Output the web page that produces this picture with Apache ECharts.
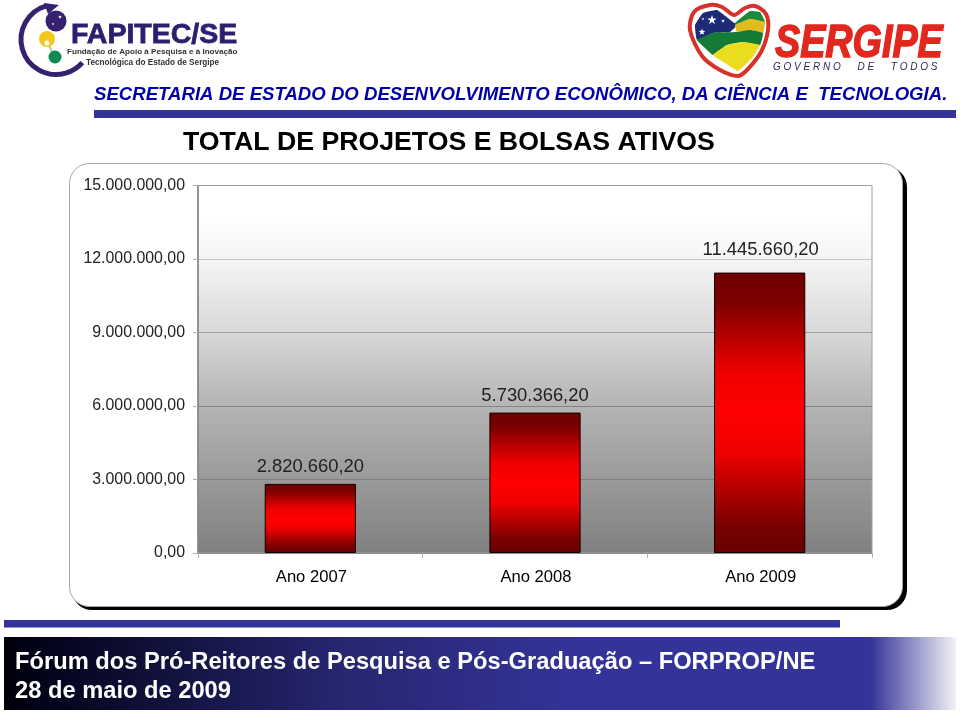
<!DOCTYPE html>
<html><head><meta charset="utf-8">
<style>html,body{margin:0;padding:0;background:#fff}#c{width:960px;height:712px}</style>
<script src="https://cdn.jsdelivr.net/npm/echarts@6/dist/echarts.min.js"></script>
</head><body><div id="c"></div>
<script>
const categories = ['Ano 2007', 'Ano 2008', 'Ano 2009'];
const values = [2820660.20, 5730366.20, 11445660.20];
const chartTitle = 'TOTAL DE PROJETOS E BOLSAS ATIVOS';
const headerText = 'SECRETARIA DE ESTADO DO DESENVOLVIMENTO ECONÔMICO, DA CIÊNCIA E  TECNOLOGIA.';
const footerLine1 = 'Fórum dos Pró-Reitores de Pesquisa e Pós-Graduação – FORPROP/NE';
const footerLine2 = '28 de maio de 2009';

const FONT = '"Liberation Sans", Arial, sans-serif';
const fmt = v => v.toLocaleString('pt-BR', {minimumFractionDigits: 2, maximumFractionDigits: 2});
const grad = (x2, y2, stops) => new echarts.graphic.LinearGradient(0, 0, x2, y2, stops.map(s => ({offset: s[0], color: s[1]})));
const chart = echarts.init(document.getElementById('c'), null, {renderer: 'canvas'});

const txt = (x, y, text, size, fill, extra) => ({type: 'text', x, y, silent: true, style: Object.assign({text, fontSize: size, fontFamily: FONT, fontWeight: 'bold', fill, textVerticalAlign: 'middle'}, extra || {})});
const rect = (x, y, width, height, fill) => ({type: 'rect', silent: true, shape: {x, y, width, height}, style: {fill}});
const poly = (points, fill, smooth, stroke, lw) => ({type: 'polygon', silent: true, shape: {points, smooth: smooth || 0}, style: {fill, stroke: stroke || 'none', lineWidth: lw || 0}});
const star = (cx, cy, r) => {
  const pts = [];
  for (let i = 0; i < 10; i++) {
    const a = -Math.PI / 2 + i * Math.PI / 5, q = i % 2 ? r * 0.4 : r;
    pts.push([cx + q * Math.cos(a), cy + q * Math.sin(a)]);
  }
  return poly(pts, '#fff');
};

const graphics = [
  {type: 'rect', silent: true, z: -10, shape: {x: 72, y: 167, width: 835, height: 443, r: 20}, style: {fill: '#000'}},
  {type: 'rect', silent: true, z: -9, shape: {x: 69.5, y: 163.5, width: 833, height: 443, r: 20}, style: {fill: '#fff', stroke: '#a8a8a8', lineWidth: 1}},
  rect(94, 110, 862, 8, '#333399'),
  txt(94, 95, headerText, 18.6, '#0000a8', {fontStyle: 'italic'}),
  txt(183, 143, chartTitle, 26.7, '#000'),
  rect(4, 620, 836, 7.5, '#333399'),
  rect(4, 637, 952, 73, grad(1, 0, [[0, '#000008'], [0.04, '#03031a'], [0.35, '#262670'], [0.6, '#333399'], [0.91, '#333399'], [1, '#f2f2f6']])),
  txt(15, 662, footerLine1, 23.7, '#fff'),
  txt(15, 691, footerLine2, 23.7, '#fff'),
  // FAPITEC logo
  {type: 'arc', silent: true, shape: {cx: 56, cy: 39.5, r: 35, startAngle: -1.85, endAngle: 0.72, clockwise: false}, style: {fill: 'none', stroke: '#35216f', lineWidth: 5}},
  poly([[44, 3], [59, 5], [48, 14]], '#35216f'),
  {type: 'circle', silent: true, shape: {cx: 56, cy: 21, r: 10.5}, style: {fill: '#35216f'}},
  star(60, 17, 2), star(53, 24, 1.5),
  {type: 'line', silent: true, shape: {x1: 47, y1: 42, x2: 55, y2: 57}, style: {stroke: '#b8c8a8', lineWidth: 2}},
  {type: 'circle', silent: true, shape: {cx: 47, cy: 39, r: 8}, style: {fill: '#f2c81a'}},
  {type: 'circle', silent: true, shape: {cx: 47, cy: 43, r: 2.5}, style: {fill: '#fff'}},
  {type: 'circle', silent: true, shape: {cx: 55, cy: 57, r: 6.5}, style: {fill: '#0f8a55'}},
  txt(71, 35, 'FAPITEC/SE', 28.5, '#2e1f6e', {stroke: '#2e1f6e', lineWidth: 0.8}),
  txt(67, 52, 'Fundação de Apoio à Pesquisa e à Inovação', 8.1, '#333'),
  txt(86, 62.5, 'Tecnológica do Estado de Sergipe', 8.2, '#333'),
  // Sergipe heart
  poly([[738, 76], [720, 70], [702, 56], [690, 30], [694, 12], [710, 5], [722, 7], [734, 15], [745, 8], [755, 6], [766, 14], [768, 30], [761, 52], [747, 70]], '#fff', 0.3, '#d8312a', 4),
  poly([[695, 25], [703, 13], [717, 10], [733, 22], [737, 25], [730, 32], [713, 33], [697, 40]], '#1d2a78', 0.1),
  poly([[735, 23], [750, 11], [760, 12], [765, 22], [750, 19], [735, 25]], '#1c8a3a', 0.1),
  poly([[735, 25], [750, 19], [765, 22], [763, 33], [750, 30], [737, 32]], '#e0bc20', 0.1),
  poly([[697, 40], [713, 33], [737, 32], [750, 30], [763, 33], [760, 45], [743, 42], [727, 45], [713, 55], [705, 48]], '#147a35', 0.1),
  poly([[713, 55], [727, 45], [743, 42], [760, 45], [752, 58], [738, 71], [725, 63]], '#eadc1e', 0.1),
  star(712, 20, 5), star(702, 32, 3.5), star(723, 21, 2), star(703, 19, 1.5),
  {type: 'text', silent: true, x: 775, y: 44, scaleX: 0.82, style: {text: 'SERGIPE', fontSize: 46, fontFamily: FONT, fontStyle: 'italic', fontWeight: 'bold', fill: '#e2281e', stroke: '#e2281e', lineWidth: 1.5, textVerticalAlign: 'middle'}},
  txt(773, 67.5, 'G O V E R N O      D E      T O D O S', 10, '#2a2a50', {fontStyle: 'italic', fontWeight: 'normal'})
];

chart.setOption({
  animation: false,
  backgroundColor: '#fff',
  graphic: {elements: graphics},
  grid: {
    left: 198, right: 88, top: 185.5, bottom: 159, containLabel: false, show: true,
    borderWidth: 1, borderColor: '#a0a0a0',
    backgroundColor: grad(0, 1, [[0, '#ffffff'], [0.08, '#ffffff'], [0.2, '#f5f5f5'], [0.4, '#d8d8d8'], [0.6, '#b4b4b4'], [0.8, '#9a9a9a'], [1, '#808080']])
  },
  xAxis: {
    type: 'category', data: categories,
    axisLine: {show: true, lineStyle: {color: '#8c8c8c', width: 1}},
    axisTick: {show: true, length: 5, lineStyle: {color: '#b0b0b0'}},
    axisLabel: {color: '#000', fontFamily: FONT, fontSize: 16.6, margin: 16, padding: [0, 0, 0, 2]}
  },
  yAxis: {
    type: 'value', min: 0, max: 15000000, interval: 3000000,
    axisLine: {show: true, lineStyle: {color: '#808080', width: 1.5}},
    axisTick: {show: true, length: 5, lineStyle: {color: '#b0b0b0'}},
    splitLine: {show: true, lineStyle: {color: ['#808080', '#808080', '#858585', '#a0a0a0', '#c4c4c4', '#a0a0a0'], width: 1}},
    axisLabel: {color: '#222', fontFamily: FONT, fontSize: 15.9, margin: 13, formatter: v => fmt(v)}
  },
  series: [{
    type: 'bar',
    data: values.map((v, i) => i === 2 ? {value: v, label: {distance: 14, offset: [1, 0]}} : v),
    barWidth: '40.6%',
    itemStyle: {
      borderColor: '#140000', borderWidth: 1,
      color: grad(0, 1, [[0, '#6e0000'], [0.1, '#7a0000'], [0.36, '#f00000'], [0.5, '#ff0000'], [0.64, '#f00000'], [0.9, '#7a0000'], [1, '#660000']])
    },
    label: {show: true, position: 'top', distance: 8, color: '#222', fontFamily: FONT, fontSize: 18.4, formatter: p => fmt(p.value)}
  }]
});
</script></body></html>
